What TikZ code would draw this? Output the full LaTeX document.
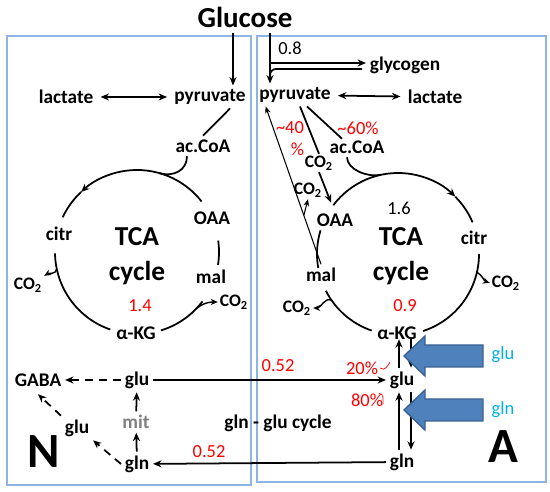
\documentclass[tikz,border=0pt]{standalone}
\usepackage{fontspec}
\setmainfont{Carlito}
\usetikzlibrary{arrows, arrows.meta, positioning, calc}
\definecolor{boxblue}{RGB}{141,180,226}
\definecolor{blockblue}{RGB}{79,129,189}
\definecolor{blockedge}{RGB}{58,98,148}
\definecolor{inflow}{RGB}{0,176,240}

\begin{document}
\begin{tikzpicture}[
        x=0.02cm, y=0.02cm,
        met/.style={font=\fontsize{11}{13}\selectfont\bfseries, inner sep=2pt},
        gas/.style={font=\fontsize{10}{12}\selectfont\bfseries, inner sep=1pt},
        flux/.style={font=\fontsize{10.5}{12.5}\selectfont, text=red, inner sep=1pt},
        plainnum/.style={font=\fontsize{10.5}{12.5}\selectfont, inner sep=1pt},
        feed/.style={font=\fontsize{10.5}{12.5}\selectfont, text=inflow},
        big/.style={font=\fontsize{15.6}{20}\selectfont\bfseries, align=center},
        cellname/.style={font=\fontsize{28}{30}\selectfont\bfseries},
        line/.style={line width=1pt},
        arrow/.style={->, line width=1pt, >={Stealth[length=4.8pt, width=4pt]}},
        dblarrow/.style={<->, line width=1pt, >={Stealth[length=4.8pt, width=4pt]}, shorten <=2pt, shorten >=2pt},
        twig/.style={->, line width=0.8pt, >={Stealth[length=4pt, width=3.4pt]}},
        thinarrow/.style={->, line width=0.6pt, >={Stealth[length=4pt, width=3.2pt]}},
        dasharrow/.style={->, line width=1pt, >={Stealth[length=4.8pt, width=4pt]}, dash pattern=on 4.5pt off 3.5pt},
        block/.style={fill=blockblue, draw=blockedge, line width=0.8pt}
    ]
    \useasboundingbox (0,0) rectangle (550,492);

    % Cells
    \draw[boxblue, line width=0.8pt] (7,7) rectangle (251,456);
    \draw[boxblue, line width=0.8pt] (257,10) rectangle (546,456);

    \node[font=\fontsize{16.5}{19}\selectfont\bfseries] (glucose) at (245,475) {Glucose};

    % Neuron
    \node[met] (lactL) at (66,395) {lactate};
    \node[met] (pyrL) at (210,395) {pyruvate};
    \node[met] (acoaL) at (203,346) {ac.CoA};
    \node[met] (citrL) at (59,258) {citr};
    \node[met] (oaaL) at (212,274) {OAA};
    \node[met] (malL) at (211,215) {mal};
    \node[met] (akgL) at (136,159) {α-KG};
    \node[big] (tcaL) at (137,236) {TCA\\cycle};
    \node[flux] (fL) at (140,186) {1.4};
    \node[gas] (co2La) at (28,207) {CO\textsubscript{2}};
    \node[gas] (co2Lb) at (234,190) {CO\textsubscript{2}};

    \node[met] (gaba) at (38,112) {GABA};
    \node[met] (gluL) at (137,112) {glu};
    \node[met, text=gray] (mit) at (136,70) {mit};
    \node[met] (glnL) at (137,28) {gln};
    \node[met] (gluS) at (77,64) {glu};
    \node[cellname] (nLab) at (44,40) {N};

    % Astrocyte
    \node[met] (glyc) at (405,427) {glycogen};
    \node[plainnum] (fGlyc) at (290,444) {0.8};
    \node[met] (pyrR) at (295,397) {pyruvate};
    \node[met] (lactR) at (435,395) {lactate};
    \node[flux, align=right] (fPC) at (290,353) {\textasciitilde40\\\%};
    \node[flux] (fPDH) at (358,364) {\textasciitilde60\%};
    \node[met] (acoaR) at (357,345) {ac.CoA};
    \node[gas] (co2Ra) at (319,329) {CO\textsubscript{2}};
    \node[gas] (co2Rb) at (308,302) {CO\textsubscript{2}};
    \node[met] (oaaR) at (335,272) {OAA};
    \node[met] (malR) at (321,217) {mal};
    \node[gas] (co2Rc) at (297,184) {CO\textsubscript{2}};
    \node[met] (citrR) at (474,254) {citr};
    \node[gas] (co2Rd) at (506,209) {CO\textsubscript{2}};
    \node[plainnum] (fR16) at (399,284) {1.6};
    \node[big] (tcaR) at (401,236) {TCA\\cycle};
    \node[flux] (fR) at (405,186) {0.9};
    \node[met] (akgR) at (397,159) {α-KG};
    \node[met] (gluR) at (402,112) {glu};
    \node[met] (glnR) at (402,30) {gln};
    \node[flux] (p20) at (362,124) {20\%};
    \node[flux] (p80) at (367,92) {80\%};
    \node[feed] (inGlu) at (503,137) {glu};
    \node[feed] (inGln) at (503,82) {gln};
    \node[cellname] (aLab) at (503,45) {A};

    % Shuttle
    \node[met] (cycle) at (278,69) {gln - glu cycle};
    \node[flux] (fGlu) at (278,126) {0.52};
    \node[flux] (fGln) at (209,40) {0.52};

    % Glucose entry
    \draw[arrow] ($(glucose.south)+(-12,0)$) coordinate (gl) -- (gl |- pyrL.north);
    \draw[arrow] ($(glucose.south)+(25,0)$) coordinate (gr) -- (gr |- pyrR.north);
    \draw[arrow] ($(gr |- glyc.west)+(0,2)$) -- ($(glyc.west)+(0,2)$);
    \draw[line] ($(glyc.west)+(-4,-4)$) -- ($(gr |- glyc.west)+(6,-4)$) to[out=180,in=90] ($(gr |- glyc.west)+(0,-10)$);

    % Neuron pathways
    \draw[dblarrow] (lactL) -- (pyrL);
    \draw[line] ($(pyrL.south)+(20,0)$) -- (acoaL.north);
    \coordinate (cL) at (137,240);
    \draw[arrow] ($(cL)+(38:82)$) arc[start angle=38, end angle=133, radius=82];
    \draw[line] ($(cL)+(133:82)$) arc[start angle=133, end angle=155, radius=82];
    \draw[line] ($(cL)+(8:82)$) arc[start angle=8, end angle=-9, radius=82];
    \draw[line] ($(cL)+(-37:82)$) arc[start angle=-37, end angle=-73, radius=82];
    \draw[line] ($(cL)+(181:82)$) arc[start angle=181, end angle=251, radius=82];
    \draw[line] ($(acoaL.south)+(-16,0)$) .. controls +(0,-14) and +(14,-4) .. ($(cL)+(74:82)$);
    \draw[twig] ($(cL)+(-44:82)$) to[out=40,in=180] (co2Lb.west);
    \draw[twig] ($(cL)+(192:82)$) to[out=-100,in=30] (co2La.north east);

    \draw[dasharrow] (gluL) -- (gaba);
    \draw[arrow] (glnL) -- (mit);
    \draw[arrow] (mit) -- (gluL);
    \draw[dasharrow] (glnL.west) -- (gluS.south east);
    \draw[dasharrow] (gluS.north west) -- ($(gaba.south)+(0,-4)$);

    % Astrocyte pathways
    \draw[dblarrow] (pyrR) -- (lactR);
    \draw[line] ($(pyrR.south)+(12,0)$) -- ($(acoaR.north)+(-15,-2)$);
    \draw[line] ($(pyrR.south)+(5,0)$) -- (co2Ra.north);
    \draw[arrow] (co2Ra.south) -- ($(oaaR.north)+(-4,7)$);
    \draw[thinarrow] (malR.north) coordinate (mr) -- ($(pyrR.south west)+(10,0)$) coordinate (pr);
    \draw[thinarrow] ($(mr)!0.31!(pr)$) -- (co2Rb.south);

    \coordinate (cR) at (398,238);
    \draw[arrow] ($(cR)+(143:81)$) arc[start angle=143, end angle=45, radius=81];
    \draw[line] ($(cR)+(45:81)$) arc[start angle=45, end angle=23, radius=81];
    \draw[line] ($(cR)+(163:81)$) arc[start angle=163, end angle=190, radius=81];
    \draw[line] ($(cR)+(207:81)$) arc[start angle=207, end angle=251, radius=81];
    \draw[line] ($(cR)+(0:81)$) arc[start angle=0, end angle=-72, radius=81];
    \draw[line] ($(acoaR.south)+(-10,0)$) .. controls +(0,-12) and +(-14,-3) .. ($(cR)+(102:81)$);
    \draw[twig] ($(cR)+(215:81)$) to[out=150,in=0] (co2Rc.east);
    \draw[twig] ($(cR)+(-13:81)$) to[out=-30,in=160] (co2Rd.west);

    \coordinate (u1) at ($(gluR.north)+(-3,0)$);
    \coordinate (d1) at ($(gluR.north)+(9,0)$);
    \coordinate (u2) at ($(gluR.south)+(-3,0)$);
    \coordinate (d2) at ($(gluR.south)+(9,0)$);
    \draw[arrow] (u1) -- (u1 |- akgR.base);
    \draw[arrow] (d1 |- akgR.base) -- (d1);
    \draw[arrow] (u2 |- glnR.north) -- (u2);
    \draw[arrow] (d2) -- (d2 |- glnR.north);
    \draw[red, line width=0.4pt] (p20.east) .. controls +(5,-4) and +(-2,-3) .. +(10,6);
    \draw[red, line width=0.4pt] ($(p80.north east)+(-6,-2)$) .. controls +(5,0) and +(0,4) .. +(4,-11);

    % Uptake from outside
    \foreach \y in {136,82}
        \draw[block] (404,\y) -- ++(21,20) -- ++(0,-9) -- ++(58,0) -- ++(0,-22) -- ++(-58,0) -- ++(0,-9) -- cycle;

    % Neuron-astrocyte exchange
    \draw[arrow] (gluL) -- (gluR);
    \draw[arrow] (glnR) -- (glnL);

\end{tikzpicture}
\end{document}
